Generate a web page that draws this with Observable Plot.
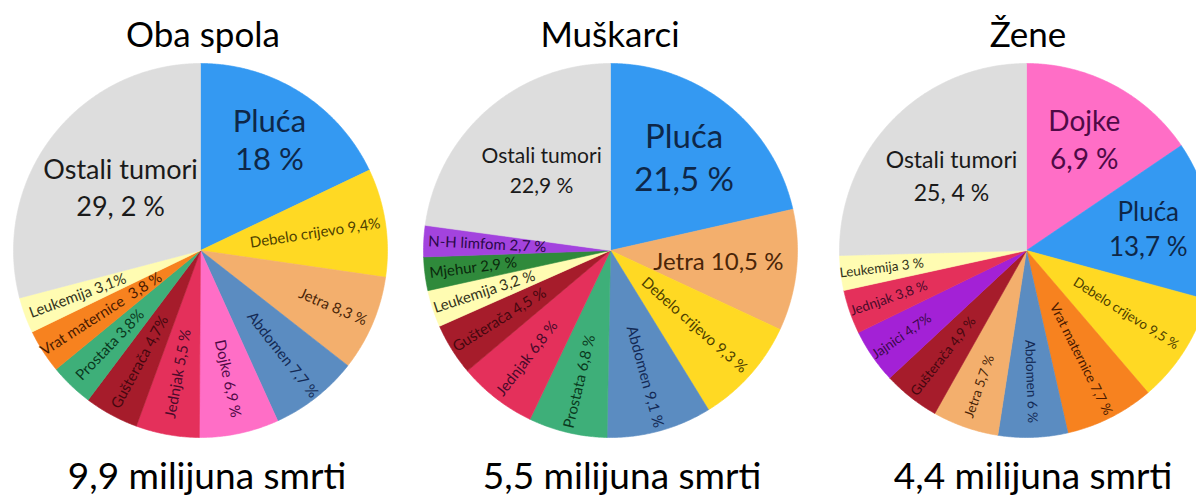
<!DOCTYPE html>
<html><head><meta charset="utf-8">
<script src="https://cdn.jsdelivr.net/npm/d3@7"></script>
<script src="https://cdn.jsdelivr.net/npm/@observablehq/plot@0.6"></script>
<style>
body{margin:0;background:#fff;font-family:Lato,"Open Sans",sans-serif;}
#wrap{position:relative;width:1196px;height:498px;overflow:hidden;background:#fff;}
.t{position:absolute;transform:translateX(-50%);white-space:nowrap;color:#000;line-height:1;}
#chart{position:absolute;left:0;}
</style></head><body><div id="wrap"><div id="chart"></div></div>
<script>
// ---------- DATA ----------
const pieNames = ["Oba spola", "Muškarci", "Žene"];
const deathTotals = ["9,9 milijuna smrti", "5,5 milijuna smrti", "4,4 milijuna smrti"];

const bothCategories = ["Pluća","Debelo crijevo","Jetra","Abdomen","Dojke","Jednjak","Gušterača","Prostata","Vrat maternice","Leukemija","Ostali tumori"];
const bothValues = [18, 9.4, 8.3, 7.7, 6.9, 5.5, 4.7, 3.8, 3.8, 3.1, 29.2];
const bothLabels = ["Pluća\n18 %","Debelo crijevo 9,4%","Jetra 8,3 %","Abdomen 7,7 %","Dojke 6,9 %","Jednjak 5,5 %","Gušterača 4,7%","Prostata 3,8%","Vrat maternice  3,8 %","Leukemija 3,1%","Ostali tumori\n29, 2 %"];

const menCategories = ["Pluća","Jetra","Debelo crijevo","Abdomen","Prostata","Jednjak","Gušterača","Leukemija","Mjehur","N-H limfom","Ostali tumori"];
const menValues = [21.5, 10.5, 9.3, 9.1, 6.8, 6.8, 4.5, 3.2, 2.9, 2.7, 22.9];
const menLabels = ["Pluća\n21,5 %","Jetra 10,5 %","Debelo crijevo 9,3 %","Abdomen 9,1 %","Prostata 6,8 %","Jednjak 6,8 %","Gušterača 4,5 %","Leukemija 3,2 %","Mjehur 2,9 %","N-H limfom 2,7 %","Ostali tumori\n22,9 %"];

const womenCategories = ["Dojke","Pluća","Debelo crijevo","Vrat maternice","Abdomen","Jetra","Gušterača","Jajnici","Jednjak","Leukemija","Ostali tumori"];
const womenValues = [15.5, 13.7, 9.5, 7.7, 6, 5.7, 4.9, 4.7, 3.8, 3, 25.4];
const womenLabels = ["Dojke\n6,9 %","Pluća\n13,7 %","Debelo crijevo 9,5 %","Vrat maternice 7,7 %","Abdomen 6 %","Jetra 5,7 %","Gušterača 4,9 %","Jajnici 4,7%","Jednjak 3,8 %","Leukemija 3 %","Ostali tumori\n25, 4 %"];

// ---------- STYLE / LAYOUT ----------
const sliceColors = {"Pluća":"#3499F2","Debelo crijevo":"#FFD923","Jetra":"#F3AF6D","Abdomen":"#5B8CC1","Dojke":"#FF6EC6","Jednjak":"#E4305B","Gušterača":"#A61C2B","Prostata":"#3EAF79","Vrat maternice":"#F7821F","Leukemija":"#FFFCB2","Ostali tumori":"#DDDDDD","Mjehur":"#2F8A3B","N-H limfom":"#A343DE","Jajnici":"#A321D6"};
const textColors = {"Pluća":"#0E2748","Debelo crijevo":"#4D4000","Jetra":"#4A2508","Abdomen":"#142A55","Dojke":"#4F0A46","Jednjak":"#4A0A2A","Gušterača":"#45070F","Prostata":"#0A3A1E","Vrat maternice":"#4A1A00","Leukemija":"#33331A","Ostali tumori":"#1A1A1A","Mjehur":"#0A280C","N-H limfom":"#2A0848","Jajnici":"#3A0848"};

const W = 1196, TOP = 56, H = 390, R = 187;
const centersX = [200, 610, 1026], centerY = 250 - TOP;
const smallSize = [15, 15, 13.5];
const labelR = [
  [0.69, 0.62, 0.77, 0.71, 0.70, 0.67, 0.68, 0.70, 0.63, 0.70, 0.54],
  [0.63, 0.58, 0.60, 0.70, 0.72, 0.73, 0.70, 0.71, 0.74, 0.66, 0.56],
  [0.66, 0.66, 0.63, 0.65, 0.70, 0.77, 0.72, 0.81, 0.78, 0.78, 0.56]
];
const bigStyle = [
  {"Pluća":{size:31,gap:38},"Ostali tumori":{size:27,gap:37}},
  {"Pluća":{size:33,gap:43},"Ostali tumori":{size:21,gap:30},"Jetra":{size:24,gap:0}},
  {"Dojke":{size:28,gap:38},"Pluća":{size:26,gap:35},"Ostali tumori":{size:23,gap:33}}
];

// ---------- BUILD ----------
const pies = [
  {cats: bothCategories, vals: bothValues, labs: bothLabels},
  {cats: menCategories, vals: menValues, labs: menLabels},
  {cats: womenCategories, vals: womenValues, labs: womenLabels}
];
const polys = [], texts = [];
pies.forEach((p, pi) => {
  const rows = p.cats.map((c, i) => ({cat: c, value: p.vals[i], label: p.labs[i], i}));
  const arcs = d3.pie().sort(null).value(d => d.value)(rows);
  const cx = centersX[pi], cy = centerY;
  arcs.forEach(a => {
    const key = pi + "-" + a.data.cat;
    const col = sliceColors[a.data.cat];
    polys.push({key, x: cx, y: cy, color: col});
    const n = Math.max(2, Math.ceil((a.endAngle - a.startAngle) / (Math.PI / 360)));
    for (let k = 0; k <= n; k++) {
      const t = a.startAngle + (a.endAngle - a.startAngle) * k / n;
      polys.push({key, x: cx + R * Math.sin(t), y: cy - R * Math.cos(t), color: col});
    }
    polys.push({key, x: cx, y: cy, color: col});
    const mid = (a.startAngle + a.endAngle) / 2;
    const f = labelR[pi][a.data.i];
    const lx = cx + R * f * Math.sin(mid), ly = cy - R * f * Math.cos(mid);
    const big = bigStyle[pi][a.data.cat];
    const tc = textColors[a.data.cat];
    if (big) {
      const lines = a.data.label.split("\n");
      lines.forEach((ln, li) => {
        const off = (li - (lines.length - 1) / 2) * big.gap;
        texts.push({x: lx, y: ly + off, text: ln, rotate: 0, size: big.size, color: tc});
      });
    } else {
      const deg = mid * 180 / Math.PI;
      const rot = deg < 180 ? deg - 90 : deg - 270;
      texts.push({x: lx, y: ly, text: a.data.label, rotate: rot, size: smallSize[pi], color: tc});
    }
  });
});

const chart = Plot.plot({
  width: W, height: H,
  margin: 0,
  x: {domain: [0, W], range: [0, W], axis: null},
  y: {domain: [0, H], range: [0, H], axis: null},
  color: {type: "identity"},
  style: {background: "transparent", fontFamily: "Lato, sans-serif"},
  marks: [
    Plot.line(polys, {x: "x", y: "y", z: "key", fill: "color", stroke: "color", strokeWidth: 0.6, curve: "linear"}),
    Plot.text(texts, {x: "x", y: "y", text: "text", rotate: "rotate", fontSize: "size", fill: "color", fontFamily: "Lato"})
  ]
});
const holder = document.getElementById("chart");
holder.style.top = TOP + "px";
holder.appendChild(chart);

const wrap = document.getElementById("wrap");
const titleX = [203, 610, 1028], captionX = [207, 622, 1033];
pieNames.forEach((name, i) => {
  const d = document.createElement("div");
  d.className = "t"; d.textContent = name;
  d.style.left = titleX[i] + "px"; d.style.top = "16px"; d.style.fontSize = "35px";
  wrap.appendChild(d);
  const c = document.createElement("div");
  c.className = "t"; c.textContent = deathTotals[i];
  c.style.left = captionX[i] + "px"; c.style.top = "456px"; c.style.fontSize = "37px";
  wrap.appendChild(c);
});
</script></body></html>
